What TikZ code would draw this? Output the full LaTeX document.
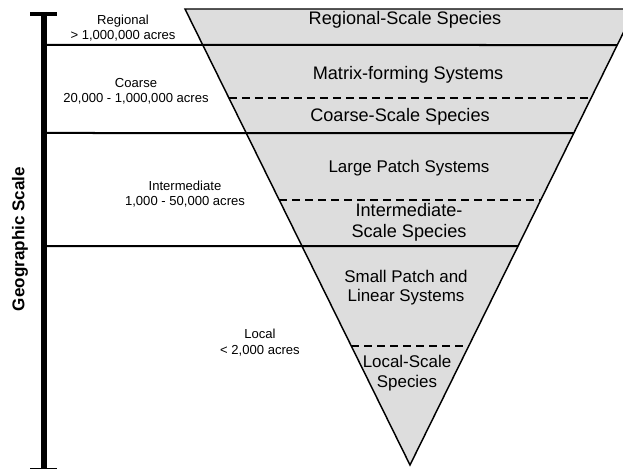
\documentclass[tikz,border=0pt]{standalone}
\usepackage{fontspec}
\setmainfont{Liberation Sans}
\definecolor{wedge}{RGB}{221,221,221}
\begin{document}
\begin{tikzpicture}[x=0.75pt,y=-0.75pt,
  rule/.style={line width=1.5pt},
  split/.style={line width=1.5pt,dash pattern=on 6pt off 3.75pt},
  scalelabel/.style={font=\fontsize{9.8}{11.4}\selectfont,align=center},
  tierlabel/.style={font=\fontsize{13.6}{15.6}\selectfont,align=center},
  smalltier/.style={tierlabel,font=\fontsize{12.7}{14.8}\selectfont},
]
\useasboundingbox (0,0) rectangle (623,470);
\clip (0,0) rectangle (623,470);
\coordinate (tl) at (185,9);
\coordinate (tr) at (635,9);
\coordinate (apex) at (410,465);
\coordinate (bartop) at (44,12);
\coordinate (barbot) at (44,469);

\fill[wedge] (tl) -- (tr) -- (apex) -- cycle;
% scale boundaries
\foreach \y in {45,133,246}
  \draw[rule] (46,\y) -- (intersection of tr--apex and 0,\y--1,\y);
\foreach \y in {98,200,346}
  \draw[split] (intersection of tl--apex and 0,\y--1,\y) -- (intersection of tr--apex and 0,\y--1,\y);
\draw[line width=1.1pt] (tl) -- (tr) -- (apex) -- cycle;

% axis
\draw[line width=4.5pt] (bartop) -- (barbot);
\draw[line width=3pt] (30,14) -- (57,14);
\draw[line width=1pt] (30,468.5) -- (57,468.5);
\node[rotate=90,font=\bfseries\fontsize{12.8}{15}\selectfont] (axis) at (20,239) {Geographic Scale};

\node[scalelabel] (regional) at (123,28.5) {Regional\\> 1,000,000 acres};
\node[scalelabel] (coarse) at (136,91) {Coarse\\20,000 - 1,000,000 acres};
\node[scalelabel] (inter) at (185,194) {Intermediate\\1,000 - 50,000 acres};
\node[scalelabel] (local) at (260,342.5) {Local\\< 2,000 acres};

\node[tierlabel] (regsp) at (405,20) {Regional-Scale Species};
\node[tierlabel] (matrix) at (408,75) {Matrix-forming Systems};
\node[tierlabel] (coarsesp) at (400,117) {Coarse-Scale Species};
\node[smalltier] (large) at (409,168) {Large Patch Systems};
\node[tierlabel] (intersp) at (409,222.5) {Intermediate-\\Scale Species};
\node[smalltier] (small) at (406,287.5) {Small Patch and\\Linear Systems};
\node[smalltier] (localsp) at (407,373) {Local-Scale\\Species};
\end{tikzpicture}
\end{document}
